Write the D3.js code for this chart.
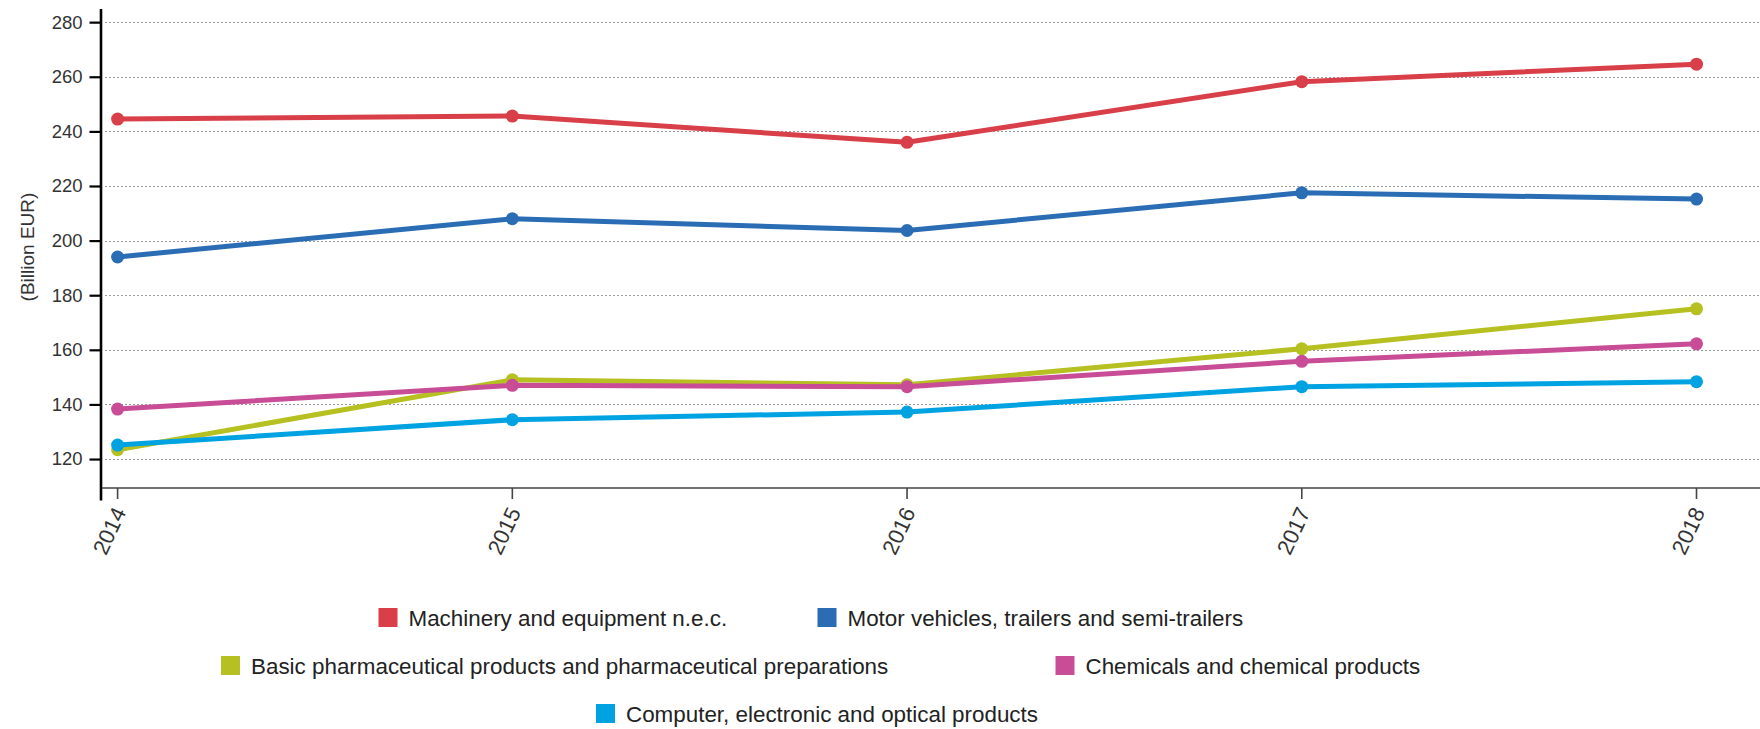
<!DOCTYPE html>
<html>
<head>
<meta charset="utf-8">
<script src="https://cdn.jsdelivr.net/npm/d3@7"></script>
<style>
  html, body { margin: 0; padding: 0; background: #fff; }
  svg { display: block; font-family: Arial, "Liberation Sans", sans-serif; }
</style>
</head>
<body>
<svg id="chart" width="1760" height="729"></svg>
<script>
// Annual values, billion EUR
const years = ["2014", "2015", "2016", "2017", "2018"];
const machinery = [244.5, 245.6, 236.0, 258.2, 264.6];
const motorVehicles = [194.0, 208.0, 203.7, 217.5, 215.2];
const pharma = [123.4, 149.0, 147.2, 160.4, 175.0];
const chemicals = [138.3, 147.0, 146.5, 155.8, 162.2];
const computers = [125.1, 134.4, 137.2, 146.5, 148.3];
const yTicks = [120, 140, 160, 180, 200, 220, 240, 260, 280];

const seriesNames = [
  "Machinery and equipment n.e.c.",
  "Motor vehicles, trailers and semi-trailers",
  "Basic pharmaceutical products and pharmaceutical preparations",
  "Chemicals and chemical products",
  "Computer, electronic and optical products"
];
const seriesValues = [machinery, motorVehicles, pharma, chemicals, computers];
const seriesColors = ["#d83f48", "#2a6db5", "#b6c020", "#c84c96", "#00a3e2"];

// legend rows: [series index, row, left x of swatch]
const legendLayout = [[0, 0, 378.5], [1, 0, 817.5], [2, 1, 221], [3, 1, 1055.5], [4, 2, 596]];

const svg = d3.select("#chart");
const W = 1760;

const x = d3.scalePoint().domain(years).range([117.6, 1696.5]);
const y = d3.scaleLinear().domain([105, 285]).range([500, 8.5]);
const axisX0 = 100.5, xAxisY = 488;

// horizontal dotted grid
svg.append("g").selectAll("line").data(yTicks).join("line")
  .attr("x1", 105).attr("x2", W)
  .attr("y1", d => Math.round(y(d)) + 0.5).attr("y2", d => Math.round(y(d)) + 0.5)
  .attr("stroke", "#9a9a9a").attr("stroke-width", 1)
  .attr("stroke-dasharray", "2,2");

// x axis
const gx = svg.append("g").attr("transform", `translate(0,${xAxisY})`);
gx.append("line").attr("x1", axisX0).attr("x2", W).attr("y1", 0).attr("y2", 0)
  .attr("stroke", "#444").attr("stroke-width", 1.6);
const xt = gx.selectAll("g.tick").data(years).join("g").attr("class", "tick")
  .attr("transform", d => `translate(${x(d)},0)`);
xt.append("line").attr("y1", 0).attr("y2", 11).attr("stroke", "#444").attr("stroke-width", 1.6);
xt.append("text").text(d => d)
  .attr("text-anchor", "end")
  .attr("transform", "translate(9,24) rotate(-65)")
  .attr("font-size", 22).attr("fill", "#333");

// y axis
const yAxis = d3.axisLeft(y).tickValues(yTicks).tickSize(11).tickSizeOuter(0).tickPadding(7);
const gy = svg.append("g").attr("transform", `translate(${axisX0},0)`).call(yAxis);
gy.select(".domain").attr("stroke", "#000").attr("stroke-width", 2.6);
gy.selectAll(".tick line").attr("stroke", "#000").attr("stroke-width", 2.2);
gy.selectAll(".tick text").attr("font-size", 18.5).attr("fill", "#333")
  .attr("font-family", "Arial, 'Liberation Sans', sans-serif");

svg.append("text").text("(Billion EUR)")
  .attr("transform", "translate(34,247) rotate(-90)")
  .attr("text-anchor", "middle").attr("font-size", 19).attr("fill", "#333");

// series lines and points
const line = d3.line().x((d, i) => x(years[i])).y(d => y(d));
const order = [0, 1, 2, 3, 4];
const gs = svg.append("g").selectAll("g").data(order).join("g");
gs.append("path")
  .attr("d", i => line(seriesValues[i]))
  .attr("fill", "none").attr("stroke", i => seriesColors[i])
  .attr("stroke-width", 5).attr("stroke-linejoin", "round");
gs.each(function (i) {
  d3.select(this).selectAll("circle").data(seriesValues[i]).join("circle")
    .attr("cx", (d, k) => x(years[k])).attr("cy", d => y(d))
    .attr("r", 6.5).attr("fill", seriesColors[i]);
});

// legend
const rowY = [617.5, 665.5, 713.5];
const lg = svg.append("g").selectAll("g").data(legendLayout).join("g")
  .attr("transform", d => `translate(${d[2]},${rowY[d[1]]})`);
lg.append("rect").attr("x", 0).attr("y", -9.5).attr("width", 19).attr("height", 19)
  .attr("fill", d => seriesColors[d[0]]);
lg.append("text").attr("x", 30).attr("y", 8.5)
  .attr("font-size", 22.4).attr("fill", "#222")
  .text(d => seriesNames[d[0]]);
</script>
</body>
</html>
